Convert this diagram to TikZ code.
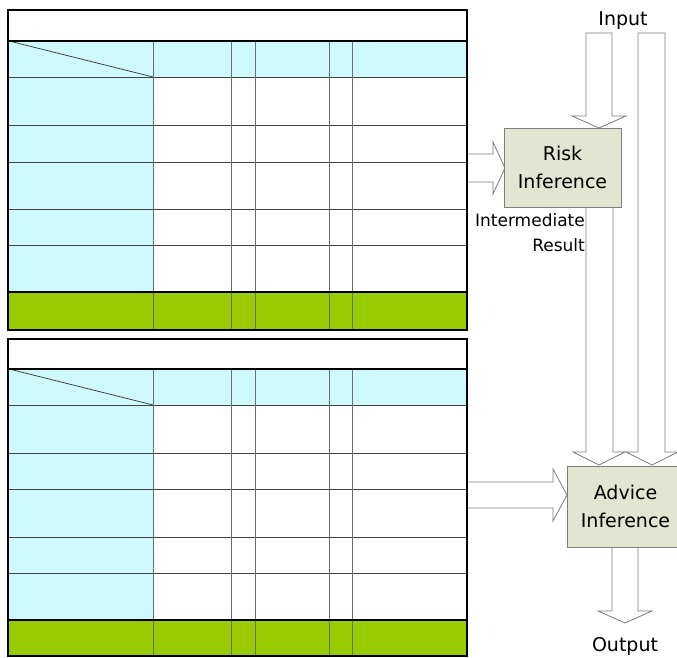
\documentclass[tikz,border=0pt]{standalone}
\usepackage{fontspec}
\setmainfont{DejaVu Sans}
\definecolor{hdrcyan}{RGB}{206,250,253}
\definecolor{sumgreen}{RGB}{153,204,0}
\definecolor{boxfill}{RGB}{226,230,208}
\definecolor{arrowgray}{RGB}{125,125,125}
\definecolor{gridgray}{RGB}{110,110,110}
\tikzset{
  thinline/.style={draw=black!75, line width=0.8pt},
  colline/.style={draw=gridgray, line width=0.9pt},
  thickline/.style={draw=black, line width=1.8pt},
  blockarrow/.style={draw=arrowgray, fill=white, line width=0.8pt, line join=miter},
  infbox/.style={draw=arrowgray, fill=boxfill, line width=0.8pt, align=center,
    font=\fontsize{19}{28}\selectfont, inner sep=0pt},
  lbl/.style={font=\fontsize{19}{23}\selectfont, inner sep=0pt},
  smalllbl/.style={font=\fontsize{17}{20}\selectfont, inner sep=0pt},
}
% #1 title top, #2 header top, #3..#7 row lines, #8 green top, #9 bottom
\newcommand\infotable[9]{%
  \fill[white] (8,#1) rectangle (467,#9);
  \fill[hdrcyan] (8,#2) rectangle (467,#3);
  \fill[hdrcyan] (8,#3) rectangle (153,#8);
  \fill[sumgreen] (8,#8) rectangle (467,#9);
  \foreach \yy in {#3,#4,#5,#6,#7} \draw[thinline] (8,\yy) -- (467,\yy);
  \foreach \xx in {153,231,255,329,352} \draw[colline] (\xx,#2) -- (\xx,#9);
  \draw[thinline] (9,#2) -- (153,#3);
  \draw[thickline] (8,#2) -- (467,#2);
  \draw[thickline] (8,#8) -- (467,#8);
  \draw[thickline] (8,#1) rectangle (467,#9);
}
% down block arrow: #1 xl, #2 xr, #3 ytop, #4 ybase, #5 head left, #6 head right, #7 tip y
\newcommand\blockdn[7]{%
  \draw[blockarrow] (#1,#3) -- (#1,#4) -- (#5,#4) -- ({(#5+#6)/2},#7) -- (#6,#4) -- (#2,#4) -- (#2,#3) -- cycle;
}
% right block arrow: #1 ytop, #2 ybot, #3 xleft, #4 xbase, #5 head top, #6 head bottom, #7 tip x
\newcommand\blockrt[7]{%
  \draw[blockarrow] (#3,#1) -- (#4,#1) -- (#4,#5) -- (#7,{(#5+#6)/2}) -- (#4,#6) -- (#4,#2) -- (#3,#2) -- cycle;
}
\begin{document}
\begin{tikzpicture}[x=1pt,y=-1pt]
\useasboundingbox (0,0) rectangle (677,658);

% block arrows (drawn first, boxes and tables cover their ends)
\blockdn{586}{612}{33}{116}{572}{626}{128}
\blockdn{638}{665}{33}{452}{626}{678}{465}
\blockdn{586}{613}{200}{452}{573}{625}{465}
\blockdn{612}{638}{540}{611}{598}{652}{623}
\blockrt{154}{182}{465}{493}{142}{194}{505}
\blockrt{482}{508}{465}{553}{469}{521}{567}

% tables
\infotable{10}{41}{77}{125}{162}{209}{245}{292}{330}
\infotable{339}{369}{405}{453}{489}{537}{573}{620}{656}

% inference boxes
\node[infbox, minimum width=117pt, minimum height=79pt] (risk) at (562.5,167.5) {Risk\\Inference};
\node[infbox, minimum width=117pt, minimum height=81pt] (advice) at (625.5,506.5) {Advice\\Inference};

% labels
\node[lbl, anchor=base] (input) at (623,26) {Input};
\node[lbl, anchor=base] (output) at (625,651) {Output};
\node[smalllbl, anchor=base east] (inter) at (585,226) {Intermediate};
\node[smalllbl, anchor=base east] (result) at (585,251) {Result};
\end{tikzpicture}
\end{document}
